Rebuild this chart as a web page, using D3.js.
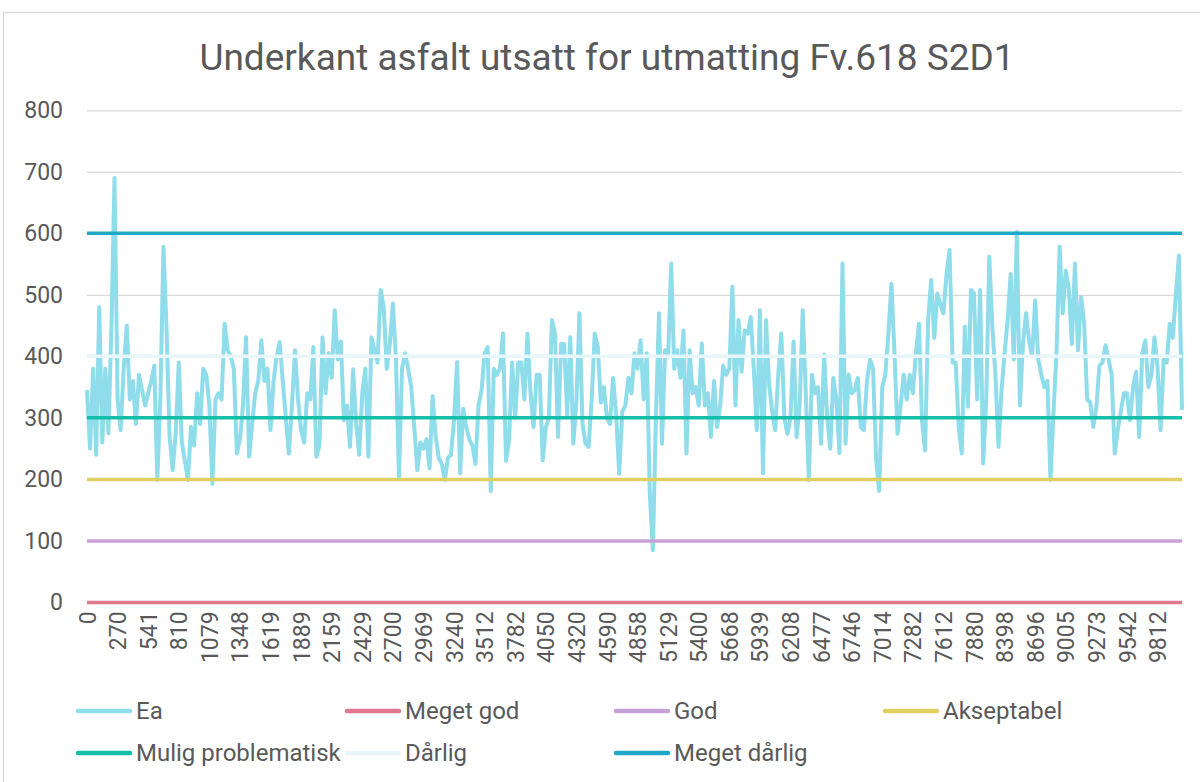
<!DOCTYPE html>
<html>
<head>
<meta charset="utf-8">
<script src="https://cdn.jsdelivr.net/npm/d3@7"></script>
<style>
  body { margin: 0; background: #fff; }
  svg { display: block; font-family: Roboto, "Noto Sans", sans-serif; }
</style>
</head>
<body>
<svg id="chart" width="1200" height="782"></svg>
<script>
const title = "Underkant asfalt utsatt for utmatting Fv.618 S2D1";

// x-axis labels (every 10th category, distance in m)
const tickLabels = ["0","270","541","810","1079","1348","1619","1889","2159","2429",
    "2700","2969","3240","3512","3782","4050","4320","4590","4858","5129",
    "5400","5668","5939","6208","6477","6746","7014","7282","7612","7880",
    "8398","8696","9005","9273","9542","9812"];

// Ea
const ea = [
    345,250,380,240,480,260,380,275,450,690, 330,280,380,450,330,360,290,370,345,320,
    340,360,385,199,335,578,445,270,215,275, 390,260,230,199,285,255,340,290,380,370,
    320,193,330,340,330,453,410,400,380,242, 265,320,431,237,290,340,360,426,360,380,
    280,360,400,423,360,300,242,320,410,330, 280,
    260,340,330,415,237,255,431,340,405,365, 475,395,424,296,320,253,379,290,240,340,
    380,237,431,410,390,508,480,380,420,486, 395,204,380,405,380,350,285,215,260,250,
    265,218,335,270,235,225,199,235,240,296, 391,210,315,285,265,255,225,320,345,405,
    415,181,380,370,380,437,230,265,390,300, 390,
    390,330,437,340,285,370,370,231,285,300, 459,437,269,420,420,305,431,258,325,470,
    290,258,253,330,437,415,325,350,300,290, 365,305,209,310,320,365,340,405,380,426,
    330,405,177,85,300,470,258,410,400,551, 380,410,365,442,242,410,340,350,320,421,
    320,340,269,360,285,320,385,370,380,513, 320,
    459,375,442,437,464,380,280,475,210,459, 355,310,280,370,437,300,274,300,424,269,
    320,475,340,199,370,340,350,258,403,300, 250,365,330,243,551,258,370,340,345,365,
    285,280,360,395,380,231,181,350,370,437, 518,405,274,320,370,330,370,340,405,453,
    295,247,459,524,430,502,485,470,534,573, 390,390,
    285,242,448,318,508,502,330,508,226,330, 562,448,370,253,345,405,459,534,395,602,
    320,420,470,426,400,491,395,370,350,360, 199,310,410,578,470,539,510,420,551,410,
    496,455,330,325,285,318,385,390,418,395, 370,242,280,310,340,340,296,350,375,269,
    405,426,350,370,431,382,280,395,390,453, 430,502,564,313
];

// threshold series
const thresholdNames = ["Meget god","God","Akseptabel","Mulig problematisk","Dårlig","Meget dårlig"];
const thresholdValues = [0, 100, 200, 300, 400, 600];

const yTicks = [0,100,200,300,400,500,600,700,800];

const eaColor = "#8fdcea";
const thresholdColors = ["#e0788e","#c8a0d8","#e0d064","#14bea9","#e8f6fa","#1ea8c6"];

const svg = d3.select("#chart");
const plot = {left: 87, right: 1182, top: 110.3, bottom: 602.4};

// chart border
svg.append("rect")
    .attr("x", 3.5).attr("y", 12.5)
    .attr("width", 1300).attr("height", 900)
    .attr("fill", "none")
    .attr("stroke", "#d9d9d9")
    .attr("stroke-width", 1.3);

svg.append("text")
    .attr("x", 607).attr("y", 70)
    .attr("text-anchor", "middle")
    .attr("font-size", 37)
    .attr("fill", "#595959")
    .text(title);

const x = d3.scalePoint(d3.range(ea.length), [plot.left, plot.right]);
const y = d3.scaleLinear([0, 800], [plot.bottom, plot.top]);

// grid
svg.append("g")
    .attr("transform", `translate(${plot.left},0)`)
    .call(d3.axisLeft(y).tickValues(yTicks).tickSize(-(plot.right - plot.left)).tickFormat(""))
    .call(g => g.select(".domain").remove())
    .call(g => g.selectAll(".tick line").attr("stroke", "#d9d9d9").attr("stroke-width", 1.3));

// y axis labels
svg.append("g")
    .attr("transform", `translate(${plot.left},0)`)
    .call(d3.axisLeft(y).tickValues(yTicks).tickSize(0).tickPadding(24))
    .call(g => g.select(".domain").remove())
    .call(g => g.selectAll("text")
        .attr("font-family", "Roboto, sans-serif")
        .attr("font-size", 23)
        .attr("fill", "#595959"));

// x axis labels
svg.append("g")
    .attr("transform", `translate(0,${plot.bottom})`)
    .call(d3.axisBottom(x)
        .tickValues(d3.range(0, ea.length, 10))
        .tickFormat(i => tickLabels[i / 10])
        .tickSize(0))
    .call(g => g.select(".domain").remove())
    .call(g => g.selectAll("text")
        .attr("font-family", "Roboto, sans-serif")
        .attr("font-size", 23)
        .attr("fill", "#595959")
        .attr("transform", "rotate(-90)")
        .attr("text-anchor", "end")
        .attr("x", -9)
        .attr("y", 0)
        .attr("dy", "0.35em"));

// Ea line
const line = d3.line()
    .x((d, i) => x(i))
    .y(d => y(d));

svg.append("path")
    .attr("d", line(ea))
    .attr("fill", "none")
    .attr("stroke", eaColor)
    .attr("stroke-width", 4)
    .attr("stroke-linejoin", "round");

// thresholds, drawn over Ea
thresholdValues.forEach((v, k) => {
    svg.append("path")
        .attr("d", line(ea.map(() => v)))
        .attr("fill", "none")
        .attr("stroke", thresholdColors[k])
        .attr("stroke-width", 3.5);
});

// legend
const legendItems = [{name: "Ea", color: eaColor}]
    .concat(thresholdNames.map((n, k) => ({name: n, color: thresholdColors[k]})));

const legend = svg.append("g")
    .selectAll("g")
    .data(legendItems)
    .join("g")
    .attr("transform", (d, i) => `translate(${78 + (i % 4) * 269},${711 + Math.floor(i / 4) * 42})`);

legend.append("line")
    .attr("x1", 0).attr("x2", 52)
    .attr("stroke", d => d.color)
    .attr("stroke-width", 4.5)
    .attr("stroke-linecap", "round");

legend.append("text")
    .attr("x", 58)
    .attr("dy", "0.35em")
    .attr("font-size", 24)
    .attr("fill", "#595959")
    .text(d => d.name);
</script>
</body>
</html>
